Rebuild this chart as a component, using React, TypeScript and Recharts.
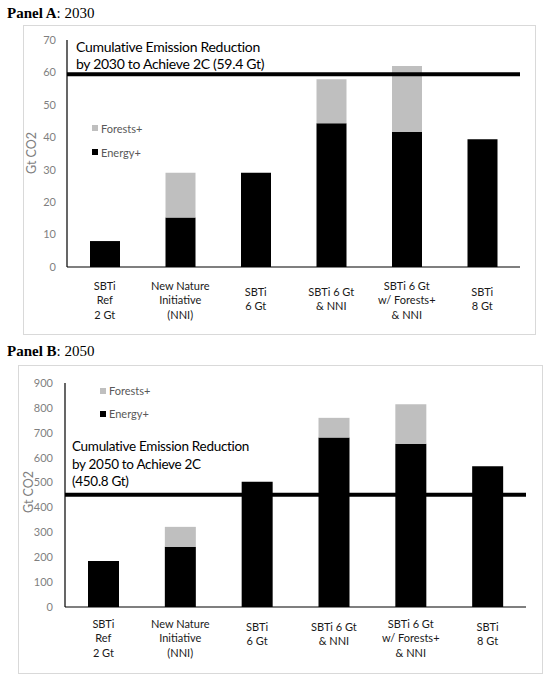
import React from 'react';
import { BarChart, Bar, XAxis, YAxis, ReferenceLine, Legend } from 'recharts';

const categories = [
  'SBTi\nRef\n2 Gt',
  'New Nature\nInitiative\n(NNI)',
  'SBTi\n6 Gt',
  'SBTi 6 Gt\n& NNI',
  'SBTi 6 Gt\nw/ Forests+\n& NNI',
  'SBTi\n8 Gt',
];

const energy2030 = [8.0, 15.3, 29.1, 44.3, 41.7, 39.4];
const forests2030 = [0, 13.8, 0, 13.6, 20.3, 0];
const energy2050 = [185, 242, 503, 681, 656, 566];
const forests2050 = [0, 80, 0, 79, 159, 0];

const target2030 = 59.4;
const target2050 = 450.8;

const yTicks2030 = [0, 10, 20, 30, 40, 50, 60, 70];
const yTicks2050 = [0, 100, 200, 300, 400, 500, 600, 700, 800, 900];

const seriesNames = ['Energy+', 'Forests+'];
const ENERGY = '#000000';
const FOREST = '#bfbfbf';
const FONT = 'Lato, "Open Sans", sans-serif';

const data2030 = categories.map((c, i) => ({ cat: c, energy: energy2030[i], forests: forests2030[i] }));
const data2050 = categories.map((c, i) => ({ cat: c, energy: energy2050[i], forests: forests2050[i] }));

const makeXTick = (off3: number, off2: number) => (props: any) => {
  const { x, y, payload } = props;
  const lines = String(payload.value).split('\n');
  const start = lines.length === 3 ? off3 : off2;
  return (
    <text x={x} y={y} textAnchor="middle" fill="#1a1a1a" fontSize={11} fontFamily={FONT} dominantBaseline="central">
      {lines.map((l, i) => (
        <tspan key={i} x={x} dy={i === 0 ? start : 14.4}>{l}</tspan>
      ))}
    </text>
  );
};

const makeLegend = (rowH: number) => (props: any) => {
  const items = [...(props.payload || [])].reverse();
  return (
    <div style={{ fontFamily: FONT, fontSize: 11, color: '#595959' }}>
      {items.map((it: any, i: number) => (
        <div key={i} style={{ height: rowH, display: 'flex', alignItems: 'center' }}>
          <span style={{ display: 'inline-block', width: 6, height: 6, background: it.color, marginRight: 3 }} />
          <span>{it.value}</span>
        </div>
      ))}
    </div>
  );
};

const abs = (s: React.CSSProperties): React.CSSProperties => ({ position: 'absolute', ...s });

export default function App() {
  return (
    <div style={{ position: 'absolute', left: 0, top: 0, width: 550, height: 682, background: '#fff', overflow: 'hidden' }}>
      {/* Panel A */}
      <div style={abs({ left: 7, top: 4, fontFamily: '"Liberation Serif", serif', fontSize: 15, color: '#000', whiteSpace: 'nowrap', lineHeight: '18px' })}>
        <b>Panel A</b>: 2030
      </div>
      <div style={abs({ left: 23, top: 25, width: 511, height: 308, border: '1px solid #d9d9d9' })} />
      <div style={abs({ left: 0, top: 0 })}>
        <BarChart width={550} height={340} data={data2030} margin={{ top: 40, left: 7, right: 30, bottom: 13 }} barSize={30}>
          <XAxis dataKey="cat" height={60} interval={0} tickLine={false} tickSize={0} axisLine={{ stroke: '#000', strokeWidth: 1.2 }} tick={makeXTick(16, 22)} />
          <YAxis width={60} domain={[0, 70]} ticks={yTicks2030} tickLine={false} tickSize={0} tickMargin={11} axisLine={{ stroke: '#000', strokeWidth: 1.2 }} tick={{ fill: '#7f7f7f', fontSize: 11, fontFamily: FONT }} />
          <Legend layout="horizontal" verticalAlign="middle" align="center" wrapperStyle={{ left: 92, top: 116, width: 'auto' }} content={makeLegend(24)} />
          <Bar dataKey="energy" name={seriesNames[0]} stackId="s" fill={ENERGY} isAnimationActive={false} />
          <Bar dataKey="forests" name={seriesNames[1]} stackId="s" fill={FOREST} isAnimationActive={false} />
          <ReferenceLine y={target2030} stroke="#000" strokeWidth={4} />
        </BarChart>
      </div>
      <div style={abs({ left: 31, top: 153, transform: 'translate(-50%, -50%) rotate(-90deg)', fontFamily: FONT, fontSize: 12.5, color: '#7f7f7f', whiteSpace: 'nowrap' })}>
        Gt CO2
      </div>
      <div style={abs({ left: 76, top: 38, fontFamily: FONT, fontSize: 14, letterSpacing: -0.3, lineHeight: '17px', color: '#000', whiteSpace: 'nowrap' })}>
        Cumulative Emission Reduction<br />by 2030 to Achieve 2C (59.4 Gt)
      </div>

      {/* Panel B */}
      <div style={abs({ left: 7, top: 342, fontFamily: '"Liberation Serif", serif', fontSize: 15, color: '#000', whiteSpace: 'nowrap', lineHeight: '18px' })}>
        <b>Panel B</b>: 2050
      </div>
      <div style={abs({ left: 18, top: 365, width: 523, height: 307, border: '1px solid #d9d9d9' })} />
      <div style={abs({ left: 0, top: 345 })}>
        <BarChart width={550} height={337} data={data2050} margin={{ top: 38, left: 5, right: 24, bottom: 15 }} barSize={31}>
          <XAxis dataKey="cat" height={60} interval={0} tickLine={false} tickSize={0} axisLine={{ stroke: '#000', strokeWidth: 1.2 }} tick={makeXTick(14, 17)} />
          <YAxis width={60} domain={[0, 900]} ticks={yTicks2050} tickLine={false} tickSize={0} tickMargin={12} axisLine={{ stroke: '#000', strokeWidth: 1.2 }} tick={{ fill: '#7f7f7f', fontSize: 11, fontFamily: FONT }} />
          <Legend layout="horizontal" verticalAlign="middle" align="center" wrapperStyle={{ left: 100, top: 34, width: 'auto' }} content={makeLegend(23.3)} />
          <Bar dataKey="energy" name={seriesNames[0]} stackId="s" fill={ENERGY} isAnimationActive={false} />
          <Bar dataKey="forests" name={seriesNames[1]} stackId="s" fill={FOREST} isAnimationActive={false} />
          <ReferenceLine y={target2050} stroke="#000" strokeWidth={4} />
        </BarChart>
      </div>
      <div style={abs({ left: 28, top: 492, transform: 'translate(-50%, -50%) rotate(-90deg)', fontFamily: FONT, fontSize: 12.5, color: '#7f7f7f', whiteSpace: 'nowrap' })}>
        Gt CO2
      </div>
      <div style={abs({ left: 72, top: 438, fontFamily: FONT, fontSize: 13.5, letterSpacing: -0.3, lineHeight: '17.5px', color: '#000', whiteSpace: 'nowrap' })}>
        Cumulative Emission Reduction<br />by 2050 to Achieve 2C<br />(450.8 Gt)
      </div>
    </div>
  );
}
